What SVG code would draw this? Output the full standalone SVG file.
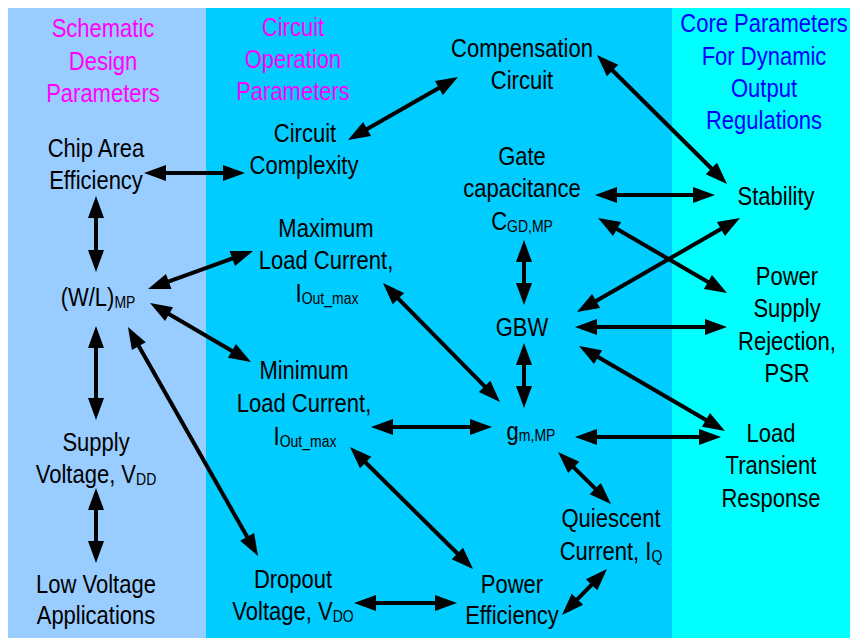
<svg xmlns="http://www.w3.org/2000/svg" width="850" height="638" viewBox="0 0 850 638">
<style>
text{font-family:"Liberation Sans",Arial,sans-serif;font-size:22px;text-anchor:middle;fill:#000}
.h1{fill:#FF00FF}
.h2{fill:#0000FF}
.s{font-size:14px}
.c line{stroke:#000;stroke-width:4;marker-start:url(#ah);marker-end:url(#ah)}
</style>
<defs>
<marker id="ah" markerUnits="userSpaceOnUse" markerWidth="22" markerHeight="16" refX="10" refY="8" orient="auto-start-reverse" overflow="visible">
<path d="M0,0 L22,8 L0,16 z" fill="#000"/>
</marker>
</defs>
<rect width="850" height="638" fill="#fff"/>
<g id="panels">
<rect x="8" y="8" width="198" height="630" fill="#99CCFF"/>
<rect x="206" y="8" width="466" height="630" fill="#00CCFF"/>
<rect x="672" y="8" width="178" height="630" fill="#00FFFF"/>
</g>
<g id="headings">
<text class="h1" transform="translate(103,37) scale(1,1.17)">Schematic</text>
<text class="h1" transform="translate(103,70) scale(1,1.17)">Design</text>
<text class="h1" transform="translate(103,102) scale(1,1.17)">Parameters</text>
<text class="h1" transform="translate(293,36) scale(1,1.17)">Circuit</text>
<text class="h1" transform="translate(293,68) scale(1,1.17)">Operation</text>
<text class="h1" transform="translate(293,100) scale(1,1.17)">Parameters</text>
<text class="h2" transform="translate(764,32) scale(1,1.17)">Core Parameters</text>
<text class="h2" transform="translate(764,65) scale(1,1.17)">For Dynamic</text>
<text class="h2" transform="translate(764,97) scale(1,1.17)">Output</text>
<text class="h2" transform="translate(764,129) scale(1,1.17)">Regulations</text>
</g>
<g id="chip-area">
<text transform="translate(96,157) scale(1,1.17)">Chip Area</text>
<text transform="translate(96,189) scale(1,1.17)">Efficiency</text>
</g>
<g id="wl">
<text transform="translate(98,306) scale(1,1.17)">(W/L)<tspan class="s" dy="2">MP</tspan></text>
</g>
<g id="supply">
<text transform="translate(96,451) scale(1,1.17)">Supply</text>
<text transform="translate(96,483) scale(1,1.17)">Voltage, V<tspan class="s" dy="2">DD</tspan></text>
</g>
<g id="low-voltage">
<text transform="translate(96,593) scale(1,1.17)">Low Voltage</text>
<text transform="translate(96,624) scale(1,1.17)">Applications</text>
</g>
<g id="complexity">
<text transform="translate(305,142) scale(1,1.17)">Circuit</text>
<text transform="translate(304,174) scale(1,1.17)">Complexity</text>
</g>
<g id="compensation">
<text transform="translate(522,57) scale(1,1.17)">Compensation</text>
<text transform="translate(522,89) scale(1,1.17)">Circuit</text>
</g>
<g id="gate-cap">
<text transform="translate(522,165) scale(1,1.17)">Gate</text>
<text transform="translate(522,197) scale(1,1.17)">capacitance</text>
<text transform="translate(522,230) scale(1,1.17)">C<tspan class="s" dy="2">GD,MP</tspan></text>
</g>
<g id="max-load">
<text transform="translate(326,237) scale(1,1.17)">Maximum</text>
<text transform="translate(326,269) scale(1,1.17)">Load Current,</text>
<text transform="translate(327,302) scale(1,1.17)">I<tspan class="s" dy="2">Out_max</tspan></text>
</g>
<g id="min-load">
<text transform="translate(304,379) scale(1,1.17)">Minimum</text>
<text transform="translate(304,412) scale(1,1.17)">Load Current,</text>
<text transform="translate(305,445) scale(1,1.17)">I<tspan class="s" dy="2">Out_max</tspan></text>
</g>
<g id="dropout">
<text transform="translate(293,588) scale(1,1.17)">Dropout</text>
<text transform="translate(293,620) scale(1,1.17)">Voltage, V<tspan class="s" dy="2">DO</tspan></text>
</g>
<g id="gbw">
<text transform="translate(522,336) scale(1,1.17)">GBW</text>
</g>
<g id="gm">
<text transform="translate(531,440) scale(1,1.17)">g<tspan class="s" dy="1">m,MP</tspan></text>
</g>
<g id="quiescent">
<text transform="translate(611,527) scale(1,1.17)">Quiescent</text>
<text transform="translate(611,560) scale(1,1.17)">Current, I<tspan class="s" dy="2">Q</tspan></text>
</g>
<g id="power-eff">
<text transform="translate(512,593) scale(1,1.17)">Power</text>
<text transform="translate(512,624) scale(1,1.17)">Efficiency</text>
</g>
<g id="stability">
<text transform="translate(776,205) scale(1,1.17)">Stability</text>
</g>
<g id="psr">
<text transform="translate(787,285) scale(1,1.17)">Power</text>
<text transform="translate(787,317) scale(1,1.17)">Supply</text>
<text transform="translate(787,350) scale(1,1.17)">Rejection,</text>
<text transform="translate(787,382) scale(1,1.17)">PSR</text>
</g>
<g id="load-transient">
<text transform="translate(771,442) scale(1,1.17)">Load</text>
<text transform="translate(771,474) scale(1,1.17)">Transient</text>
<text transform="translate(771,507) scale(1,1.17)">Response</text>
</g>
<g id="connectors" class="c">
<line x1="156" y1="173" x2="233" y2="173"/>
<line x1="96" y1="208" x2="96" y2="260"/>
<line x1="96" y1="338" x2="96" y2="408"/>
<line x1="96" y1="500" x2="96" y2="551"/>
<line x1="159.3" y1="284.9" x2="241.7" y2="255.1"/>
<line x1="160.4" y1="309.1" x2="240.6" y2="355.9"/>
<line x1="133.9" y1="337.4" x2="252.1" y2="545.6"/>
<line x1="358.4" y1="134" x2="447.6" y2="83"/>
<line x1="605.5" y1="63.5" x2="718.5" y2="175.5"/>
<line x1="607" y1="195" x2="703" y2="195"/>
<line x1="608.4" y1="224" x2="716.6" y2="287"/>
<line x1="587.4" y1="306" x2="729.6" y2="224"/>
<line x1="524" y1="252" x2="524" y2="293"/>
<line x1="587" y1="327" x2="715" y2="327"/>
<line x1="589.4" y1="352" x2="714.6" y2="425"/>
<line x1="524" y1="355" x2="524" y2="396"/>
<line x1="391.4" y1="291.6" x2="491.6" y2="393.4"/>
<line x1="383" y1="427" x2="480" y2="427"/>
<line x1="587" y1="437" x2="709" y2="437"/>
<line x1="566.6" y1="460.4" x2="602.4" y2="495.6"/>
<line x1="598.6" y1="577.6" x2="570.4" y2="606.4"/>
<line x1="358.5" y1="455.5" x2="464.5" y2="560.5"/>
<line x1="366" y1="603" x2="445" y2="603"/>
</g>
</svg>
